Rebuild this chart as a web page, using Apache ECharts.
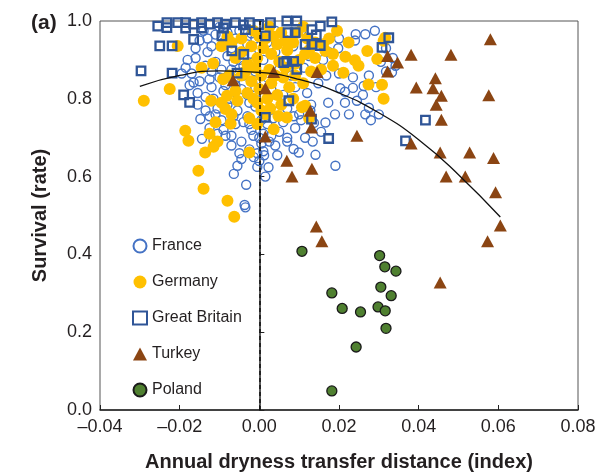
<!DOCTYPE html>
<html><head><meta charset="utf-8">
<script src="https://cdn.jsdelivr.net/npm/echarts@6/dist/echarts.min.js"></script>
<style>html,body{margin:0;padding:0;background:#fff}#c{width:613px;height:474px}</style>
</head><body><div id="c"></div>
<script>
const xTicks = [-0.04, -0.02, 0.00, 0.02, 0.04, 0.06, 0.08];
const xTickLabels = ['\u20130.04', '\u20130.02', '0.00', '0.02', '0.04', '0.06', '0.08'];
const yTicks = [0, 0.2, 0.4, 0.6, 0.8, 1.0];
const yTickLabels = ['0.0', '0.2', '0.4', '0.6', '0.8', '1.0'];
const seriesNames = ['France', 'Germany', 'Great Britain', 'Turkey', 'Poland'];

const france = [
 [-0.014,0.975],[-0.011,0.965],[-0.008,0.97],[-0.005,0.975],[-0.002,0.968],[0.004,0.975],[0.0105,0.975],
 [-0.015,0.95],[-0.012,0.935],[-0.009,0.945],[-0.006,0.955],[-0.003,0.94],[-0.001,0.955],[0.002,0.945],
 [-0.016,0.905],[-0.013,0.92],[-0.011,0.895],[-0.008,0.91],[-0.005,0.9],[-0.002,0.915],[0.001,0.9],[0.004,0.92],
 [-0.017,0.865],[-0.015,0.845],[-0.012,0.87],[-0.01,0.855],[-0.007,0.875],[-0.004,0.86],[-0.001,0.87],[0.002,0.855],[0.005,0.875],[0.008,0.86],
 [-0.0165,0.842],[-0.0155,0.815],[-0.012,0.83],[-0.0115,0.80],[-0.009,0.82],[-0.006,0.835],[-0.003,0.81],[-0.001,0.83],[0.001,0.805],[0.003,0.825],[0.006,0.81],[0.009,0.83],[0.012,0.815],
 [-0.0155,0.785],[-0.0135,0.77],[-0.011,0.76],[-0.008,0.785],[-0.0055,0.77],[-0.003,0.755],[-0.001,0.78],[0.001,0.765],[0.004,0.79],[0.007,0.775],[0.010,0.76],[0.013,0.785],
 [-0.0148,0.748],[-0.0144,0.697],[-0.0115,0.693],[-0.009,0.72],[-0.007,0.705],[-0.0045,0.69],[-0.002,0.72],[0.0,0.70],[0.002,0.735],[0.005,0.715],[0.007,0.70],[0.009,0.725],
 [-0.0055,0.628],[-0.0064,0.607],[-0.0033,0.579],[-0.0035,0.521],[-0.0037,0.527],[-0.0014,0.650],[0.001,0.665],[0.0023,0.624],[0.0086,0.671],[0.0099,0.662],[0.0141,0.656],[0.0191,0.628],
 [0.007,0.69],[-0.007,0.68],[-0.005,0.66],[-0.0025,0.67],[0.0,0.64],[0.004,0.68],[0.0134,0.69],[0.0005,0.685],[0.001,0.71],[-0.0005,0.66],[0.0012,0.655],
 [0.0166,0.739],[0.0128,0.77],[0.0173,0.79],[0.0245,0.795],[0.0266,0.76],[0.030,0.76],[0.0275,0.777],[0.0215,0.818],[0.0203,0.827],[0.0235,0.828],[0.0293,0.83],[0.0262,0.833],
 [0.0333,0.868],[0.0342,0.885],[0.0318,0.87],[0.0200,0.865],[0.0168,0.86],[0.0148,0.84],[0.0112,0.88],[0.016,0.90],[0.0198,0.93],[0.024,0.95],[0.0242,0.966],[0.0266,0.966],
 [0.029,0.975],[0.020,0.955],[0.0175,0.92],[0.0125,0.91],[0.0085,0.935],[0.0055,0.96],[0.0318,0.93],[0.0137,0.738],[0.0105,0.745],[0.0086,0.755],
 [-0.0185,0.88],[-0.0175,0.835],[-0.0135,0.885],[-0.0095,0.875],[-0.0065,0.895],[-0.0135,0.805],[-0.0075,0.80],[-0.0045,0.825],[-0.0095,0.745],[-0.006,0.735],[-0.0125,0.725],
 [-0.016,0.93],[-0.018,0.9],[-0.0195,0.865],[-0.013,0.955],[-0.01,0.985],[-0.007,0.93],[-0.004,0.885],[-0.0015,0.895],[-0.0125,0.85],[-0.0085,0.835],[-0.006,0.85],
 [-0.0025,0.79],[-0.0105,0.775],[-0.0125,0.755],[-0.0065,0.755],[-0.004,0.74],[-0.0085,0.705],[-0.0105,0.71],[-0.0015,0.705],[-0.0025,0.735],[0.0005,0.745],
 [0.003,0.705],[0.0035,0.75],[0.006,0.74],[0.0025,0.69],[-0.0045,0.645],[-0.0005,0.625],[0.0015,0.60],[0.0045,0.655],[0.0115,0.70],[0.0155,0.715],[0.019,0.76],
 [0.0215,0.79],[0.0225,0.76],[0.026,0.81],[0.028,0.745],[0.0235,0.855],[0.0275,0.86],[0.0305,0.895],[0.0335,0.905]
];
const germany = [
 [-0.029,0.795],[-0.0225,0.825],[-0.0205,0.936],[-0.0186,0.718],[-0.0178,0.692],[-0.0153,0.615],[-0.014,0.569],[-0.008,0.538],[-0.0063,0.497],[-0.0136,0.662],[-0.0115,0.677],[-0.0025,0.662],
 [-0.0116,0.891],[-0.0091,0.85],[-0.0121,0.795],[-0.0081,0.808],[-0.0085,0.774],[-0.011,0.74],[-0.0072,0.736],[-0.0125,0.71],[-0.0105,0.69],[-0.0025,0.75],
 [-0.007,0.945],[-0.0045,0.955],[-0.0045,0.92],[-0.002,0.935],[-0.003,0.89],[-0.0005,0.905],[0.001,0.93],[0.0015,0.955],[0.003,0.915],[0.0045,0.94],[0.005,0.895],[0.007,0.925],
 [0.0025,0.875],[0.0005,0.86],[-0.002,0.845],[-0.0045,0.86],[-0.006,0.82],[-0.003,0.815],[0.0,0.825],[0.003,0.84],[0.006,0.855],[0.0045,0.81],[0.0075,0.83],[0.009,0.86],
 [0.01,0.90],[0.0085,0.945],[0.0095,0.97],[0.0055,0.97],[0.0025,0.985],[-0.0015,0.975],[0.012,0.955],[0.0125,0.925],[0.014,0.905],[0.016,0.94],
 [0.0107,0.778],[0.0069,0.752],[0.0048,0.756],[0.0036,0.722],[0.0115,0.782],[0.0027,0.775],[-0.0005,0.79],[0.0015,0.76],[-0.0005,0.735],[0.0,0.96],[-0.001,0.88],
 [0.0224,0.945],[0.0216,0.908],[0.024,0.899],[0.0271,0.923],[0.0296,0.902],[0.0211,0.867],[0.0249,0.885],[0.0274,0.837],[0.0308,0.836],[0.0316,0.957],[0.0312,0.949],
 [0.0115,0.915],[0.0166,0.923],[0.014,0.945],[0.0185,0.885],[0.0312,0.80],[-0.0145,0.88],[-0.0095,0.935],
 [-0.008,0.96],[-0.006,0.905],[-0.0035,0.87],[-0.0015,0.8],[0.002,0.80],[0.004,0.86],[0.0065,0.88],[0.0085,0.8],[0.011,0.84],[0.013,0.87],[0.0155,0.875],
 [0.0175,0.955],[0.011,0.985],[0.0035,0.96],[0.0065,0.95],[-0.0055,0.795],[-0.0095,0.79],[-0.0075,0.86],[0.0005,0.77],[0.0055,0.785],[0.0185,0.915],
 [0.0195,0.975],[0.0125,0.75],[-0.007,0.76],[0.009,0.89]
];
const greatBritain = [
 [-0.0255,0.987],[-0.0232,0.996],[-0.0232,0.983],[-0.0205,0.996],[-0.0185,0.996],[-0.0165,0.992],[-0.0145,0.996],[-0.0125,0.992],[-0.0105,0.996],[-0.0085,0.992],
 [-0.006,0.996],[-0.004,0.99],[-0.0025,0.996],[-0.0002,0.991],[0.0028,0.996],[0.0069,1.0],[0.0094,1.0],[0.0072,0.970],[0.009,0.970],[0.0132,0.978],[0.0153,0.987],[0.0182,0.998],
 [-0.0185,0.982],[-0.0145,0.982],[-0.009,0.982],[-0.0035,0.978],[0.0015,0.962],[0.0143,0.964],
 [-0.025,0.936],[-0.0219,0.936],[-0.0297,0.872],[-0.0219,0.866],[-0.019,0.810],[-0.0175,0.791],[-0.0165,0.953],[-0.0094,0.962],[-0.0069,0.923],[-0.0039,0.914],[-0.0056,0.866],
 [0.0061,0.893],[0.0069,0.896],[0.0086,0.896],[0.0094,0.876],[0.0115,0.94],[0.0132,0.94],[0.0153,0.937],[0.0325,0.957],[0.0308,0.932],[0.0417,0.745],[0.0367,0.692],
 [0.0174,0.698],[0.0131,0.748],[0.0015,0.752],[0.0074,0.795]
];
const turkey = [
 [0.058,0.953],[0.0322,0.910],[0.0381,0.913],[0.0481,0.913],[0.0347,0.893],[0.0322,0.870],[0.0442,0.853],[0.0394,0.829],[0.0436,0.827],[0.0457,0.808],[0.0576,0.809],
 [0.0444,0.785],[0.0457,0.746],[0.0381,0.685],[0.0454,0.662],[0.0528,0.662],[0.0588,0.648],[0.0469,0.600],[0.0517,0.600],[0.0593,0.560],[0.0605,0.474],[0.0573,0.434],
 [0.0454,0.328],[0.0143,0.472],[0.0157,0.434],[0.0069,0.641],[0.0132,0.620],[0.0082,0.600],[0.0128,0.769],[0.0131,0.726],[0.0015,0.703],[0.0245,0.705],[0.0036,0.869],
 [0.0145,0.869],[0.0015,0.827],[-0.0066,0.848]
];
const poland = [
 [0.0107,0.408],[0.0302,0.397],[0.0315,0.368],[0.0343,0.357],[0.0182,0.301],[0.0305,0.316],[0.0331,0.294],[0.0208,0.261],[0.0254,0.252],[0.0298,0.265],[0.0316,0.255],
 [0.0318,0.210],[0.0243,0.162],[0.0182,0.049]
];
const fitCurve = [
 [-0.030,0.832],[-0.020,0.860],[-0.010,0.872],[0.000,0.868],[0.010,0.850],[0.020,0.815],[0.030,0.764],[0.040,0.695],[0.050,0.605],[0.0605,0.496]
];

const chart = echarts.init(document.getElementById('c'), null, {renderer: 'canvas'});
const txt = '#231f20';
const font = 'Liberation Sans, Arial, sans-serif';
chart.setOption({
  animation: false,
  textStyle: {fontFamily: font, color: txt},
  title: {text: '(a)', left: 26, top: 8, textStyle: {fontSize: 21, fontWeight: 'bold', color: txt, fontFamily: font}},
  grid: {left: 100, right: 35, top: 21, bottom: 64, show: true, borderColor: '#555', borderWidth: 1,
         outerBoundsMode: 'none', containLabel: false},
  legend: {
    orient: 'vertical', left: 127, top: 233, itemWidth: 14, itemHeight: 13, itemGap: 20,
    data: seriesNames,
    textStyle: {fontSize: 16, color: txt, fontFamily: font}
  },
  xAxis: {
    type: 'value', min: xTicks[0], max: xTicks[xTicks.length - 1], interval: 0.02,
    name: 'Annual dryness transfer distance (index)', nameLocation: 'middle', nameGap: 42,
    nameTextStyle: {fontSize: 20, fontWeight: 'bold', color: txt, fontFamily: font},
    axisLine: {lineStyle: {color: '#222', width: 1.5}},
    axisTick: {inside: true, length: 5, lineStyle: {color: '#222'}},
    splitLine: {show: false},
    axisLabel: {fontSize: 18, color: txt, margin: 8, formatter: v => {
      const i = xTicks.findIndex(t => Math.abs(t - v) < 1e-9); return i >= 0 ? xTickLabels[i] : ''; }}
  },
  yAxis: {
    type: 'value', min: 0, max: 1, interval: 0.2,
    name: 'Survival (rate)', nameLocation: 'middle', nameGap: 50,
    nameTextStyle: {fontSize: 20, fontWeight: 'bold', color: txt, fontFamily: font},
    axisLine: {lineStyle: {color: '#222', width: 1.5}},
    axisTick: {inside: true, length: 5, lineStyle: {color: '#222'}},
    splitLine: {show: false},
    axisLabel: {fontSize: 18, color: txt, margin: 8, formatter: v => {
      const i = yTicks.findIndex(t => Math.abs(t - v) < 1e-9); return i >= 0 ? yTickLabels[i] : ''; }}
  },
  series: [
    {name: 'France', type: 'scatter', data: france, symbol: 'circle', symbolSize: 9,
     itemStyle: {color: 'rgba(255,255,255,0)', borderColor: '#4472c4', borderWidth: 1.4, opacity: 1}, z: 2},
    {name: 'Germany', type: 'scatter', data: germany, symbol: 'circle', symbolSize: 12,
     itemStyle: {color: '#ffc000', opacity: 1}, z: 3},
    {name: 'Great Britain', type: 'scatter', data: greatBritain, symbol: 'rect', symbolSize: 8.5,
     itemStyle: {color: 'rgba(255,255,255,0)', borderColor: '#2f5597', borderWidth: 2.3, opacity: 1}, z: 4},
    {name: 'Turkey', type: 'scatter', data: turkey, symbol: 'triangle', symbolSize: [13, 12],
     itemStyle: {color: '#8b4513', opacity: 1}, z: 5},
    {name: 'Poland', type: 'scatter', data: poland, symbol: 'circle', symbolSize: 10,
     itemStyle: {color: '#4f8030', borderColor: '#1a1a1a', borderWidth: 1.3, opacity: 1}, z: 6},
    {name: 'fit', type: 'line', data: fitCurve, smooth: true, symbol: 'none', silent: true,
     lineStyle: {color: '#111', width: 1.3}, z: 7,
     markLine: {silent: true, symbol: 'none', label: {show: false},
       lineStyle: {color: '#111', width: 1.5, type: [4, 3]}, data: [{xAxis: 0}]}}
  ]
});
</script></body></html>
